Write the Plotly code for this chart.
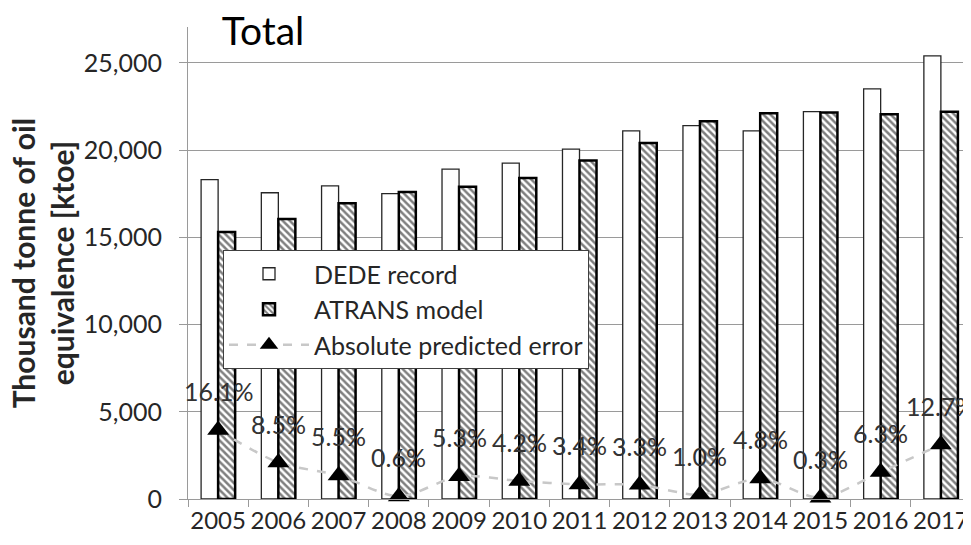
import plotly.graph_objects as go

years = ["2005", "2006", "2007", "2008", "2009", "2010", "2011",
         "2012", "2013", "2014", "2015", "2016", "2017"]
dede_record = [18300, 17550, 17950, 17500, 18900, 19250, 20050,
               21100, 21400, 21100, 22200, 23500, 25400]
atrans_model = [15300, 16050, 16950, 17600, 17900, 18400, 19400,
                20400, 21650, 22100, 22150, 22050, 22200]
error_pct = [16.1, 8.5, 5.5, 0.6, 5.3, 4.2, 3.4, 3.3, 1.0, 4.8, 0.3, 6.3, 12.7]
error_labels = [f"{v:.1f}%" for v in error_pct]
y_ticks = [0, 5000, 10000, 15000, 20000, 25000]

FONT = "Lato"
TXT = "#262626"
GRID = "#9a9a9a"

# page body has an 8px default margin; size the figure so the plot lands where the reference has it
W, H = 963, 537

fig = go.Figure()
fig.add_bar(
    x=years, y=dede_record, name="DEDE record",
    marker=dict(color="white", line=dict(color="#262626", width=1.3)),
)
fig.add_bar(
    x=years, y=atrans_model, name="ATRANS model",
    marker=dict(
        color="white",
        pattern=dict(shape="\\", fgcolor="black", bgcolor="white", size=5, solidity=0.5),
        line=dict(color="black", width=2.5),
    ),
)
fig.add_scatter(
    x=years, y=error_pct, yaxis="y2", name="Absolute predicted error",
    mode="lines+markers",
    line=dict(color="#c8c8c8", width=2.5, dash="dash", shape="spline", smoothing=0.8),
    marker=dict(symbol="triangle-up", size=19, color="black"),
    cliponaxis=False,
)

annotations = []
for i, (v, lab) in enumerate(zip(error_pct, error_labels)):
    annotations.append(dict(
        x=i, y=v, xref="x", yref="y2", text=lab, showarrow=False,
        yshift=39, yanchor="middle", xanchor="center",
        font=dict(family=FONT, size=25, color="#333333"),
    ))
annotations.append(dict(
    x=-0.186, y=0.5, xref="paper", yref="paper", xanchor="center", yanchor="middle",
    text="Thousand tonne of oil<br>equivalence [ktoe]", textangle=-90, showarrow=False,
    font=dict(family=FONT, size=30, color=TXT, weight="bold"),
))

fig.update_layout(
    width=W, height=H,
    margin=dict(l=180, r=0, t=19, b=46),
    paper_bgcolor="white", plot_bgcolor="white",
    barmode="group", bargap=0.435, bargroupgap=0,
    font=dict(family=FONT, color=TXT),
    title=dict(text="Total", x=0.043, xref="paper", xanchor="left",
               y=1 - 23 / H, yref="container", yanchor="middle",
               font=dict(family=FONT, size=39, color="black")),
    xaxis=dict(type="category", range=[-0.5, 12.5], autorange=False,
               tickson="boundaries", ticks="outside", ticklen=7,
               tickcolor=GRID, showline=True, linecolor=GRID, linewidth=1.2,
               showgrid=False, tickangle=0,
               tickfont=dict(family=FONT, size=24, color=TXT)),
    yaxis=dict(range=[0, 27050], tickvals=y_ticks, tickformat=",",
               showgrid=True, gridcolor=GRID, gridwidth=1.2, zeroline=False,
               showline=True, linecolor=GRID, linewidth=1.2,
               ticks="outside", ticklen=8, tickcolor=GRID,
               ticklabelstandoff=12,
               tickfont=dict(family=FONT, size=25, color=TXT)),
    yaxis2=dict(overlaying="y", range=[0, 110], visible=False),
    legend=dict(x=0.0447, y=0.5275, xanchor="left", yanchor="top",
                bgcolor="white", bordercolor="#404040", borderwidth=1,
                font=dict(family=FONT, size=25, color=TXT),
                traceorder="normal", itemwidth=80, tracegroupgap=0),
    annotations=annotations,
)

fig.write_html("out.html")
